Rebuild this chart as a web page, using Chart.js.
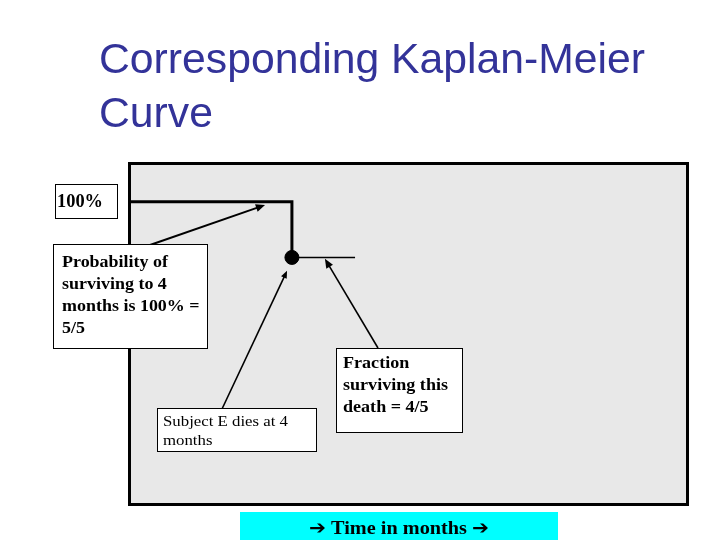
<!DOCTYPE html>
<html>
<head>
<meta charset="utf-8">
<script src="https://cdn.jsdelivr.net/npm/chart.js@4/dist/chart.umd.min.js"></script>
<style>
  html, body { margin: 0; padding: 0; background: #ffffff; }
  #wrap { width: 720px; height: 540px; position: relative; }
</style>
</head>
<body>
<div id="wrap"><canvas id="c" width="720" height="540"></canvas></div>
<script>
// ---- data ----
const titleLines = ["Corresponding Kaplan-Meier", "Curve"];
const stepTimes = [0, 4, 4];          // months
const stepSurvival = [1.0, 1.0, 0.8]; // proportion surviving
const afterTimes = [4, 5.55];
const afterSurvival = [0.8, 0.8];
const eventTimes = [4];
const eventSurvival = [0.8];
const yLabel = "100%";
const xLabel = "\u2794 Time in months \u2794";
const noteProbability = ["Probability of", "surviving to 4", "months is 100% =", "5/5"];
const noteSubject = ["Subject E dies at 4", "months"];
const noteFraction = ["Fraction", "surviving this", "death = 4/5"];
// arrow tips, in data units
const tipProbability = [3.34, 0.988];
const tipSubject = [3.88, 0.752];
const tipFraction = [4.81, 0.795];

const toXY = (xs, ys) => xs.map((x, i) => ({ x: x, y: ys[i] }));

function arrow(ctx, x1, y1, x2, y2, width, head) {
  ctx.save();
  ctx.strokeStyle = '#000'; ctx.fillStyle = '#000';
  ctx.lineWidth = width;
  const a = Math.atan2(y2 - y1, x2 - x1);
  const bx = x2 - Math.cos(a) * head * 0.8, by = y2 - Math.sin(a) * head * 0.8;
  ctx.beginPath(); ctx.moveTo(x1, y1); ctx.lineTo(bx, by); ctx.stroke();
  ctx.beginPath();
  ctx.moveTo(x2, y2);
  ctx.lineTo(x2 - Math.cos(a - 0.4) * head, y2 - Math.sin(a - 0.4) * head);
  ctx.lineTo(x2 - Math.cos(a + 0.4) * head, y2 - Math.sin(a + 0.4) * head);
  ctx.closePath(); ctx.fill();
  ctx.restore();
}

function box(ctx, l, t, r, b, fill) {
  ctx.save();
  ctx.fillStyle = fill; ctx.fillRect(l, t, r - l, b - t);
  ctx.strokeStyle = '#000'; ctx.lineWidth = 1;
  ctx.strokeRect(l + 0.5, t + 0.5, r - l - 1, b - t - 1);
  ctx.restore();
}

// draw lines of text, stretched horizontally so that line `ref` spans `refWidth`
function lines(ctx, arr, x, y0, step, font, ref, refWidth) {
  ctx.save();
  ctx.fillStyle = '#000'; ctx.font = font; ctx.textBaseline = 'alphabetic'; ctx.textAlign = 'left';
  const k = refWidth ? refWidth / ctx.measureText(arr[ref]).width : 1;
  ctx.translate(x, 0);
  ctx.scale(k, 1);
  arr.forEach((s, i) => ctx.fillText(s, 0, y0 + i * step));
  ctx.restore();
}

const slidePlugin = {
  id: 'slide',
  beforeDraw(chart) {
    const { ctx, chartArea: a } = chart;
    ctx.save();
    ctx.fillStyle = '#e8e8e8';
    ctx.fillRect(a.left, a.top, a.right - a.left, a.bottom - a.top);
    ctx.restore();
  },
  afterDatasetsDraw(chart) {
    const { ctx, chartArea: a } = chart;
    ctx.save();
    ctx.strokeStyle = '#000'; ctx.lineWidth = 3;
    ctx.strokeRect(a.left + 0.5, a.top + 1.5, a.right - a.left, a.bottom - a.top);
    ctx.restore();
  },
  afterDraw(chart) {
    const { ctx } = chart;
    const xs = chart.scales.x, ys = chart.scales.y;
    const px = (p) => [xs.getPixelForValue(p[0]), ys.getPixelForValue(p[1])];

    // title
    ctx.save();
    ctx.fillStyle = '#333399';
    ctx.font = '43px "Liberation Sans", Arial, sans-serif';
    ctx.textBaseline = 'alphabetic';
    const w0 = ctx.measureText(titleLines[0]).width;
    const sx = 546 / w0;
    ctx.translate(99, 0);
    ctx.scale(sx, 1);
    ctx.fillText(titleLines[0], 0, 73);
    ctx.fillText(titleLines[1], 0, 127);
    ctx.restore();

    // arrows
    const tp = px(tipProbability), ts = px(tipSubject), tf = px(tipFraction);
    arrow(ctx, 150, 245, tp[0], tp[1], 2, 10);
    arrow(ctx, 222, 409, ts[0], ts[1], 1.6, 8);
    arrow(ctx, 378, 348, tf[0], tf[1], 1.6, 10);

    // 100% label
    box(ctx, 55, 184, 118, 219, '#ffffff');
    lines(ctx, [yLabel], 57, 207, 0, 'bold 19px "Liberation Serif", serif', 0, 46);

    // notes
    box(ctx, 53, 244, 208, 349, '#ffffff');
    lines(ctx, noteProbability, 62, 267, 22, 'bold 17px "Liberation Serif", serif', 0, 106);

    box(ctx, 157, 408, 317, 452, '#ffffff');
    lines(ctx, noteSubject, 163, 426, 19, '15px "Liberation Serif", serif', 0, 125);

    box(ctx, 336, 348, 463, 433, '#ffffff');
    lines(ctx, noteFraction, 343, 368, 22, 'bold 17px "Liberation Serif", serif', 1, 105);

    // x label
    ctx.save();
    ctx.fillStyle = '#00ffff';
    ctx.fillRect(240, 512, 318, 30);
    ctx.fillStyle = '#000';
    ctx.font = 'bold 19px "Liberation Serif", "DejaVu Sans", serif';
    ctx.textBaseline = 'alphabetic'; ctx.textAlign = 'center';
    const kx = 180 / ctx.measureText(xLabel).width;
    ctx.translate(399, 0);
    ctx.scale(kx, 1);
    ctx.fillText(xLabel, 0, 534);
    ctx.restore();
  }
};

new Chart(document.getElementById('c'), {
  type: 'line',
  data: {
    datasets: [
      { data: toXY(stepTimes, stepSurvival), borderColor: '#000', borderWidth: 3, pointRadius: 0, fill: false, tension: 0 },
      { data: toXY(afterTimes, afterSurvival), borderColor: '#000', borderWidth: 1.5, pointRadius: 0, fill: false, tension: 0 },
      { data: toXY(eventTimes, eventSurvival), borderColor: '#000', backgroundColor: '#000', showLine: false, pointRadius: 7, pointHoverRadius: 7 }
    ]
  },
  options: {
    responsive: false,
    animation: false,
    events: [],
    layout: { padding: { left: 129, top: 162, right: 33, bottom: 37 } },
    plugins: { legend: { display: false }, tooltip: { enabled: false }, title: { display: false } },
    scales: {
      x: { type: 'linear', min: 0, max: 13.7, display: false },
      y: { type: 'linear', min: -0.08, max: 1.142, display: false }
    }
  },
  plugins: [slidePlugin]
});
</script>
</body>
</html>
